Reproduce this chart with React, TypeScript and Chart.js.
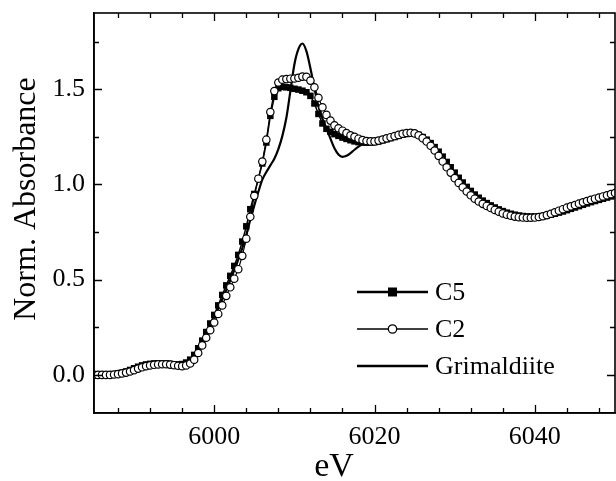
import { useEffect, useRef } from "react";
import { Chart, registerables } from "chart.js";

Chart.register(...registerables);

// Photon energy (eV)
const energies = [
  5985, 5985.5, 5986, 5986.5, 5987, 5987.5, 5988, 5988.5, 5989, 5989.5,
  5990, 5990.5, 5991, 5991.5, 5992, 5992.5, 5993, 5993.5, 5994, 5994.5,
  5995, 5995.5, 5996, 5996.5, 5997, 5997.5, 5998, 5998.5, 5999, 5999.5,
  6000, 6000.5, 6001, 6001.5, 6002, 6002.5, 6003, 6003.5, 6004, 6004.5,
  6005, 6005.5, 6006, 6006.5, 6007, 6007.5, 6008, 6008.5, 6009, 6009.5,
  6010, 6010.5, 6011, 6011.5, 6012, 6012.5, 6013, 6013.5, 6014, 6014.5,
  6015, 6015.5, 6016, 6016.5, 6017, 6017.5, 6018, 6018.5, 6019, 6019.5,
  6020, 6020.5, 6021, 6021.5, 6022, 6022.5, 6023, 6023.5, 6024, 6024.5,
  6025, 6025.5, 6026, 6026.5, 6027, 6027.5, 6028, 6028.5, 6029, 6029.5,
  6030, 6030.5, 6031, 6031.5, 6032, 6032.5, 6033, 6033.5, 6034, 6034.5,
  6035, 6035.5, 6036, 6036.5, 6037, 6037.5, 6038, 6038.5, 6039, 6039.5,
  6040, 6040.5, 6041, 6041.5, 6042, 6042.5, 6043, 6043.5, 6044, 6044.5,
  6045, 6045.5, 6046, 6046.5, 6047, 6047.5, 6048, 6048.5, 6049, 6049.5,
  6050,
];

const c5 = [
  0.000, 0.000, 0.000, 0.000, 0.002, 0.004, 0.007, 0.012, 0.018, 0.026,
  0.035, 0.043, 0.050, 0.055, 0.058, 0.060, 0.061, 0.061, 0.060, 0.058,
  0.056, 0.055, 0.057, 0.065, 0.080, 0.105, 0.140, 0.180, 0.225, 0.270,
  0.315, 0.365, 0.420, 0.470, 0.520, 0.572, 0.630, 0.700, 0.780, 0.870,
  0.950, 1.030, 1.110, 1.220, 1.360, 1.460, 1.505, 1.512, 1.510, 1.507,
  1.502, 1.498, 1.492, 1.484, 1.465, 1.425, 1.370, 1.320, 1.292, 1.276,
  1.264, 1.255, 1.246, 1.239, 1.232, 1.226, 1.222, 1.220, 1.219, 1.220,
  1.222, 1.226, 1.231, 1.237, 1.243, 1.249, 1.255, 1.261, 1.265, 1.267,
  1.266, 1.260, 1.249, 1.235, 1.217, 1.196, 1.172, 1.146, 1.118, 1.090,
  1.062, 1.035, 1.010, 0.987, 0.966, 0.947, 0.930, 0.915, 0.902, 0.890,
  0.879, 0.869, 0.860, 0.852, 0.846, 0.841, 0.837, 0.834, 0.832, 0.831,
  0.831, 0.832, 0.834, 0.837, 0.841, 0.846, 0.852, 0.858, 0.865, 0.872,
  0.879, 0.886, 0.893, 0.900, 0.907, 0.913, 0.919, 0.925, 0.931, 0.937,
  0.943,
];

const c2 = [
  0.000, 0.000, 0.000, 0.000, 0.000, 0.002, 0.004, 0.008, 0.012, 0.018,
  0.025, 0.033, 0.040, 0.046, 0.050, 0.053, 0.055, 0.056, 0.056, 0.054,
  0.051, 0.048, 0.046, 0.050, 0.060, 0.080, 0.115, 0.155, 0.195, 0.235,
  0.275, 0.320, 0.365, 0.415, 0.460, 0.505, 0.555, 0.625, 0.715, 0.830,
  0.940, 1.030, 1.120, 1.235, 1.380, 1.490, 1.535, 1.550, 1.553, 1.555,
  1.556, 1.560, 1.566, 1.565, 1.545, 1.510, 1.455, 1.405, 1.365, 1.335,
  1.310, 1.295, 1.282, 1.270, 1.258, 1.250, 1.240, 1.233, 1.228, 1.226,
  1.226, 1.230, 1.236, 1.242, 1.248, 1.254, 1.260, 1.266, 1.270, 1.271,
  1.268, 1.258, 1.243, 1.225, 1.203, 1.178, 1.150, 1.120, 1.090, 1.062,
  1.033, 1.008, 0.985, 0.963, 0.943, 0.925, 0.910, 0.898, 0.887, 0.876,
  0.866, 0.857, 0.848, 0.841, 0.836, 0.831, 0.828, 0.826, 0.825, 0.825,
  0.826, 0.829, 0.833, 0.839, 0.846, 0.854, 0.862, 0.870, 0.878, 0.885,
  0.892, 0.899, 0.906, 0.913, 0.919, 0.925, 0.931, 0.937, 0.943, 0.949,
  0.955,
];

const grimaldiite = [
  0.000, 0.000, 0.000, 0.000, 0.001, 0.003, 0.006, 0.010, 0.015, 0.021,
  0.028, 0.036, 0.043, 0.049, 0.053, 0.056, 0.058, 0.058, 0.057, 0.055,
  0.053, 0.052, 0.054, 0.061, 0.075, 0.098, 0.130, 0.170, 0.213, 0.257,
  0.302, 0.348, 0.396, 0.446, 0.497, 0.550, 0.605, 0.665, 0.735, 0.815,
  0.890, 0.960, 1.025, 1.065, 1.100, 1.135, 1.185, 1.255, 1.350, 1.490,
  1.630, 1.710, 1.740, 1.700, 1.610, 1.505, 1.410, 1.345, 1.295, 1.240,
  1.190, 1.157, 1.145, 1.150, 1.164, 1.182, 1.198, 1.212, 1.222, 1.225,
  1.226, 1.229, 1.234, 1.240, 1.246, 1.252, 1.258, 1.263, 1.267, 1.268,
  1.266, 1.259, 1.247, 1.232, 1.213, 1.191, 1.166, 1.140, 1.112, 1.084,
  1.056, 1.030, 1.005, 0.982, 0.962, 0.944, 0.927, 0.912, 0.899, 0.887,
  0.876, 0.866, 0.857, 0.850, 0.844, 0.839, 0.835, 0.832, 0.830, 0.829,
  0.829, 0.830, 0.832, 0.835, 0.839, 0.844, 0.850, 0.856, 0.863, 0.870,
  0.877, 0.884, 0.891, 0.898, 0.905, 0.911, 0.917, 0.923, 0.929, 0.935,
  0.941,
];

const seriesNames = ["C5", "C2", "Grimaldiite"];
const xTickLabels = [6000, 6020, 6040];
const yTickLabels = [0.0, 0.5, 1.0, 1.5];
const xTitle = "eV";
const yTitle = "Norm. Absorbance";

const SERIF = "'Liberation Serif', 'Times New Roman', Times, serif";

const toPoints = (ys: number[]) => energies.map((x, i) => ({ x, y: ys[i] }));

const isLabelX = (v: number) => xTickLabels.some((t) => Math.abs(t - v) < 1e-6);
const isLabelY = (v: number) => yTickLabels.some((t) => Math.abs(t - v) < 1e-6);

const framePlugin = {
  id: "frameAndDecor",
  afterDraw(chart: any) {
    const { ctx, chartArea: a, scales } = chart;
    const xs = scales.x;
    const ys = scales.y;
    ctx.save();
    ctx.strokeStyle = "#000";
    ctx.lineWidth = 1.6;
    ctx.strokeRect(a.left, a.top, a.right - a.left, a.bottom - a.top);

    // inward ticks on all four sides
    ctx.lineWidth = 1.3;
    ctx.beginPath();
    xs.ticks.forEach((t: any) => {
      const px = Math.round(xs.getPixelForValue(t.value)) + 0.5;
      const len = isLabelX(t.value) ? 8 : 5;
      ctx.moveTo(px, a.bottom);
      ctx.lineTo(px, a.bottom - len);
      ctx.moveTo(px, a.top);
      ctx.lineTo(px, a.top + len);
    });
    ys.ticks.forEach((t: any) => {
      const py = Math.round(ys.getPixelForValue(t.value)) + 0.5;
      const len = isLabelY(t.value) ? 8 : 5;
      ctx.moveTo(a.left, py);
      ctx.lineTo(a.left + len, py);
      ctx.moveTo(a.right, py);
      ctx.lineTo(a.right - len, py);
    });
    ctx.stroke();

    // axis titles
    ctx.fillStyle = "#000";
    ctx.font = `32px ${SERIF}`;
    ctx.textAlign = "center";
    ctx.textBaseline = "alphabetic";
    ctx.save();
    ctx.translate(35, 199);
    ctx.rotate(-Math.PI / 2);
    ctx.fillText(yTitle, 0, 0);
    ctx.restore();
    ctx.font = `34px ${SERIF}`;
    ctx.fillText(xTitle, 334, 476);

    // legend
    const ds = chart.data.datasets;
    const rows = [292, 329, 366];
    const x0 = 357;
    const x1 = 428;
    const xm = (x0 + x1) / 2;
    ctx.font = `26px ${SERIF}`;
    ctx.textAlign = "left";
    ctx.textBaseline = "middle";
    ds.forEach((d: any, i: number) => {
      const y = rows[i];
      ctx.strokeStyle = "#000";
      ctx.lineWidth = i === 1 ? 1.6 : 2.4;
      ctx.beginPath();
      ctx.moveTo(x0, y);
      ctx.lineTo(x1, y);
      ctx.stroke();
      if (d.pointStyle === "rect") {
        ctx.fillStyle = "#000";
        ctx.fillRect(xm - 4.5, y - 4.5, 9, 9);
      } else if (d.pointStyle === "circle" && d.pointRadius > 0) {
        ctx.fillStyle = "#fff";
        ctx.lineWidth = 1.3;
        ctx.beginPath();
        ctx.arc(xm, y, 4.2, 0, Math.PI * 2);
        ctx.fill();
        ctx.stroke();
      }
      ctx.fillStyle = "#000";
      ctx.fillText(d.label, 435, y + 1);
    });
    ctx.restore();
  },
};

export default function App() {
  const ref = useRef<HTMLCanvasElement>(null);

  useEffect(() => {
    if (!ref.current) return;
    const chart = new Chart(ref.current, {
      type: "line",
      data: {
        datasets: [
          {
            label: seriesNames[0],
            data: toPoints(c5),
            borderColor: "#000",
            borderWidth: 1.5,
            backgroundColor: "#000",
            pointStyle: "rect",
            pointRadius: 4.6,
            pointHoverRadius: 0,
            pointBorderWidth: 0,
            pointBackgroundColor: "#000",
            tension: 0,
            order: 1,
          },
          {
            label: seriesNames[1],
            data: toPoints(c2),
            borderColor: "#000",
            borderWidth: 1.2,
            pointStyle: "circle",
            pointRadius: 3.7,
            pointHoverRadius: 0,
            pointBorderWidth: 1.2,
            pointBorderColor: "#000",
            pointBackgroundColor: "#fff",
            tension: 0,
            order: 0,
          },
          {
            label: seriesNames[2],
            data: toPoints(grimaldiite),
            borderColor: "#000",
            borderWidth: 2.2,
            pointRadius: 0,
            pointHoverRadius: 0,
            pointBorderWidth: 0,
            pointStyle: "line",
            cubicInterpolationMode: "monotone",
            order: 2,
          },
        ] as any,
      },
      options: {
        animation: false,
        responsive: false,
        events: [],
        layout: { padding: { left: 0, right: 6, top: 13, bottom: 0 } },
        plugins: {
          legend: { display: false },
          tooltip: { enabled: false },
        },
        scales: {
          x: {
            type: "linear",
            min: 5985,
            max: 6050,
            grid: { display: true, drawOnChartArea: false, drawTicks: false },
            border: { display: true, color: "#000", width: 1.6 },
            ticks: {
              stepSize: 4,
              includeBounds: false,
              autoSkip: false,
              maxRotation: 0,
              padding: 9,
              color: "#000",
              font: { family: SERIF, size: 26 },
              callback: (v: any) => (isLabelX(Number(v)) ? String(v) : ""),
            },
            afterFit: (s: any) => {
              s.height = 68;
              s.paddingLeft = 0;
              s.paddingRight = 0;
              s.paddingTop = 0;
              s.paddingBottom = 0;
            },
          },
          y: {
            type: "linear",
            min: -0.2,
            max: 1.9,
            grid: { display: true, drawOnChartArea: false, drawTicks: false },
            border: { display: true, color: "#000", width: 1.6 },
            ticks: {
              stepSize: 0.25,
              includeBounds: false,
              autoSkip: false,
              padding: 9,
              color: "#000",
              font: { family: SERIF, size: 26 },
              callback: (v: any) => (isLabelY(Number(v)) ? Number(v).toFixed(1) : ""),
            },
            afterFit: (s: any) => {
              s.width = 94;
              s.paddingLeft = 0;
              s.paddingRight = 0;
              s.paddingTop = 0;
              s.paddingBottom = 0;
            },
          },
        },
      },
      plugins: [framePlugin],
    });
    return () => chart.destroy();
  }, []);

  return (
    <div
      style={{
        position: "absolute",
        left: 0,
        top: 0,
        width: 616,
        height: 481,
        overflow: "hidden",
        background: "#fff",
      }}
    >
      <canvas ref={ref} width={621} height={481} style={{ display: "block" }} />
    </div>
  );
}
